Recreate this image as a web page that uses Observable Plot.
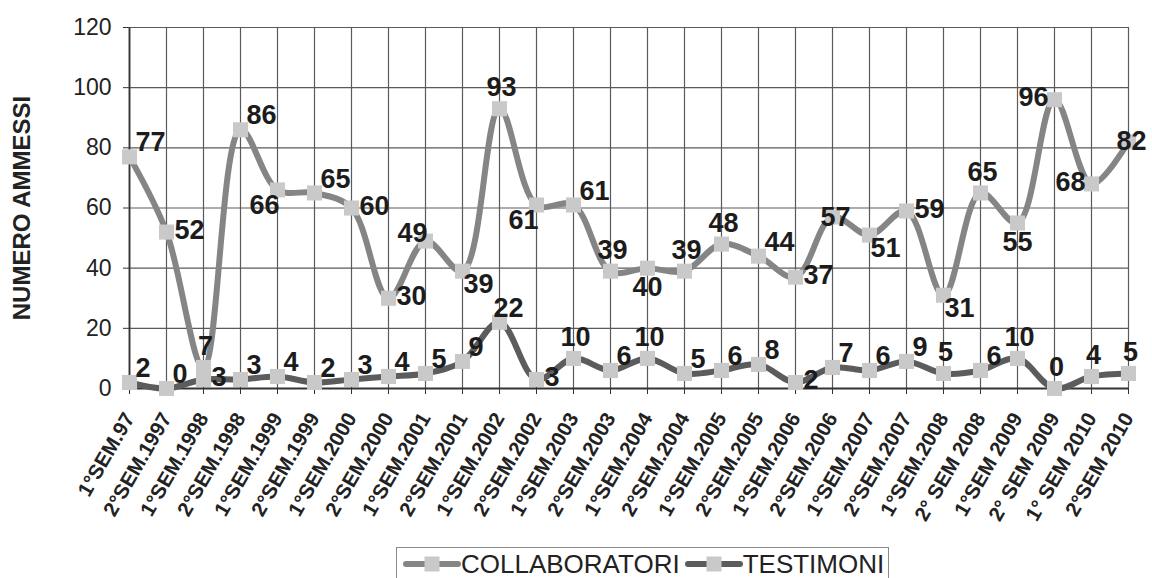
<!DOCTYPE html>
<html>
<head>
<meta charset="utf-8">
<script src="https://cdn.jsdelivr.net/npm/d3@7"></script>
<script src="https://cdn.jsdelivr.net/npm/@observablehq/plot@0.6"></script>
<style>
  body { margin: 0; background: #fff; font-family: "Liberation Sans", Arial, sans-serif; }
  #chart svg { display: block; }
  .legend { display: inline-flex; align-items: center; border: 1px solid #8a8a8a; margin: 2px 0 0 396px; padding: 1px 4px 2px 6px; font-size: 26px; color: #222; line-height: 30px; }
  .legend .item { display: flex; align-items: center; }
  .legend .item + .item { margin-left: 5px; }
</style>
</head>
<body>
<div id="chart"></div>
<script>
const categories = ["1°SEM.97","2°SEM.1997","1°SEM.1998","2°SEM.1998","1°SEM.1999","2°SEM.1999","1°SEM.2000","2°SEM.2000","1°SEM.2001","2°SEM.2001","1°SEM.2002","2°SEM.2002","1°SEM.2003","2°SEM.2003","1°SEM.2004","2°SEM.2004","1°SEM.2005","2°SEM.2005","1°SEM.2006","2°SEM.2006","1°SEM.2007","2°SEM.2007","1°SEM.2008","2° SEM 2008","1°SEM 2009","2° SEM 2009","1° SEM 2010","2°SEM 2010"];
const collaboratori = [77,52,7,86,66,65,60,30,49,39,93,61,61,39,40,39,48,44,37,57,51,59,31,65,55,96,68,82];
const testimoni = [2,0,3,3,4,2,3,4,5,9,22,3,10,6,10,5,6,8,2,7,6,9,5,6,10,0,4,5];
const yTicks = [0,20,40,60,80,100,120];
const seriesNames = ["COLLABORATORI","TESTIMONI"];
// label placement (style only)
const collabLabelPos = ["ne","e","n","ne","sw","ne","e","e","nw","se","n","sw","ne","n","s","n","n","ne","e","c","se","e","se","n","s","w","w","c"];
const testimoniLabelPos = ["ne","ne","e","ne","ne","ne","ne","ne","ne","ne","nn","e","n","ne","n","ne","ne","ne","e","ne","ne","ne","n","ne","n","n","n","n"];

const lineColors = {"COLLABORATORI": "#858585", "TESTIMONI": "#5c5c5c"};
const markerColor = "#c9c9c9";

const collabRows = categories.map((c, i) => ({cat: c, value: collaboratori[i], series: seriesNames[0], pos: collabLabelPos[i]}));
const testRows = categories.map((c, i) => ({cat: c, value: testimoni[i], series: seriesNames[1], pos: testimoniLabelPos[i]}));

const posStyles = {
  n:  {textAnchor: "middle", dx: 2, dy: -21},
  nn: {textAnchor: "start", dx: -6, dy: -14},
  ne: {textAnchor: "start", dx: 6, dy: -14},
  e:  {textAnchor: "start", dx: 8, dy: -2},
  se: {textAnchor: "start", dx: 1, dy: 13},
  s:  {textAnchor: "middle", dx: 0, dy: 19},
  sw: {textAnchor: "end", dx: 2, dy: 15},
  w:  {textAnchor: "end", dx: -6, dy: -2},
  nw: {textAnchor: "end", dx: 2, dy: -8},
  c:  {textAnchor: "middle", dx: 3, dy: 0}
};

const labelMarks = [];
for (const rows of [collabRows, testRows]) {
  for (const [code, st] of Object.entries(posStyles)) {
    const sub = rows.filter(d => d.pos === code);
    if (!sub.length) continue;
    labelMarks.push(Plot.text(sub, {x: "cat", y: "value", text: d => String(d.value), fontSize: 27, fontWeight: "bold", fill: "#1c1c1c", ...st}));
  }
}

const chart = Plot.plot({
  width: 1152,
  height: 545,
  marginLeft: 128,
  marginRight: 24,
  marginTop: 27,
  marginBottom: 157,
  style: {fontFamily: "'Liberation Sans', Arial, sans-serif", color: "#222", background: "#fff"},
  x: {type: "point", domain: categories, padding: 0},
  y: {domain: [0, 120]},
  marks: [
    Plot.ruleY(yTicks, {stroke: "#5a5a5a", strokeWidth: 1.2}),
    Plot.ruleX(categories, {stroke: "#5a5a5a", strokeWidth: 1.2}),
    Plot.ruleY([0], {stroke: "#333", strokeWidth: 2}),
    Plot.ruleX([categories[0]], {stroke: "#333", strokeWidth: 1.8}),
    Plot.axisY({ticks: yTicks, tickSize: 5, tickPadding: 12, fontSize: 23, label: null, stroke: "#333"}),
    Plot.axisX({tickRotate: -60, tickSize: 6, tickPadding: 20, fontSize: 20.5, fontWeight: "bold", label: null, stroke: "#333"}),
    Plot.text(["NUMERO AMMESSI"], {frameAnchor: "left", rotate: -90, dx: -106, fontSize: 24, fontWeight: "bold", fill: "#222", textAnchor: "middle"}),
    Plot.line(collabRows, {x: "cat", y: "value", stroke: lineColors["COLLABORATORI"], strokeWidth: 6, curve: "catmull-rom"}),
    Plot.dot(collabRows, {x: "cat", y: "value", symbol: "square", r: 8.5, fill: markerColor}),
    Plot.line(testRows, {x: "cat", y: "value", stroke: lineColors["TESTIMONI"], strokeWidth: 6, curve: "catmull-rom"}),
    Plot.dot(testRows, {x: "cat", y: "value", symbol: "square", r: 8.5, fill: markerColor}),
    ...labelMarks
  ]
});
document.getElementById("chart").append(chart);

// legend
const legend = document.createElement("div");
legend.className = "legend";
for (const name of seriesNames) {
  const item = document.createElement("div");
  item.className = "item";
  item.innerHTML = `<svg width="58" height="20"><line x1="3" y1="10" x2="55" y2="10" stroke="${lineColors[name]}" stroke-width="6" stroke-linecap="round"/><rect x="21.5" y="2.5" width="15" height="15" fill="${markerColor}"/></svg><span>${name}</span>`;
  legend.append(item);
}
document.body.append(legend);
</script>
</body>
</html>
